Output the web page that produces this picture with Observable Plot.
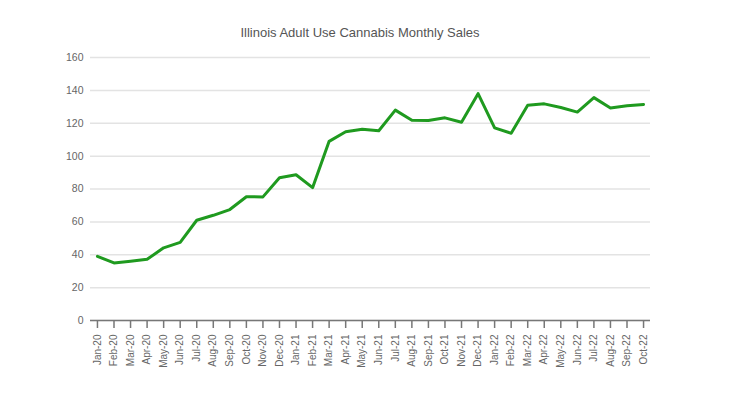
<!DOCTYPE html>
<html>
<head>
<meta charset="utf-8">
<script src="https://cdn.jsdelivr.net/npm/d3@7"></script>
<script src="https://cdn.jsdelivr.net/npm/@observablehq/plot@0.6"></script>
<style>
  html, body { margin: 0; padding: 0; background: #fff; }
  #wrap { width: 751px; height: 395px; position: relative; font-family: "Liberation Sans", Arial, sans-serif; }
  #title { position: absolute; left: 0; top: 25px; width: 720px; text-align: center; font-size: 13px; color: #555; }
  #chart { position: absolute; left: 0; top: 45px; }
</style>
</head>
<body>
<div id="wrap">
  <div id="title">Illinois Adult Use Cannabis Monthly Sales</div>
  <div id="chart"></div>
</div>
<script>
const months = ["Jan-20","Feb-20","Mar-20","Apr-20","May-20","Jun-20","Jul-20","Aug-20","Sep-20","Oct-20","Nov-20","Dec-20",
  "Jan-21","Feb-21","Mar-21","Apr-21","May-21","Jun-21","Jul-21","Aug-21","Sep-21","Oct-21","Nov-21","Dec-21",
  "Jan-22","Feb-22","Mar-22","Apr-22","May-22","Jun-22","Jul-22","Aug-22","Sep-22","Oct-22"];
const sales = [39, 35, 36, 37.2, 44.2, 47.5, 61, 64, 67.5, 75.3, 75.2, 86.8,
  88.7, 80.8, 109, 114.8, 116.4, 115.4, 128, 121.8, 121.7, 123.3, 120.6, 138,
  117.2, 113.9, 131, 131.8, 129.6, 126.8, 135.6, 129.3, 130.6, 131.4];
const yTicks = [0, 20, 40, 60, 80, 100, 120, 140, 160];

const data = months.map((m, i) => ({month: m, value: sales[i]}));

const chart = Plot.plot({
  width: 751,
  height: 350,
  marginTop: 12,
  marginBottom: 75,
  marginLeft: 90,
  marginRight: 101,
  style: {fontFamily: "'Liberation Sans', Arial, sans-serif", color: "#666", background: "#fff"},
  x: {type: "point", domain: months, padding: 0.42, round: false, label: null},
  y: {domain: [0, 160], label: null},
  marks: [
    Plot.gridY(yTicks, {stroke: "#e3e3e3", strokeOpacity: 1, strokeWidth: 1.5}),
    Plot.axisY(yTicks, {tickSize: 0, tickPadding: 7, fontSize: 10.5, fill: "#666", label: null}),
    Plot.ruleY([0], {stroke: "#777", strokeWidth: 1.5}),
    Plot.axisX(months, {tickSize: 8, tickPadding: 6, tickRotate: -90, fontSize: 10, fill: "#666", stroke: "#777", strokeWidth: 1.5, label: null}),
    Plot.line(data, {x: "month", y: "value", stroke: "#1f9a1f", strokeWidth: 3, curve: "linear"})
  ]
});
document.getElementById("chart").appendChild(chart);
</script>
</body>
</html>
